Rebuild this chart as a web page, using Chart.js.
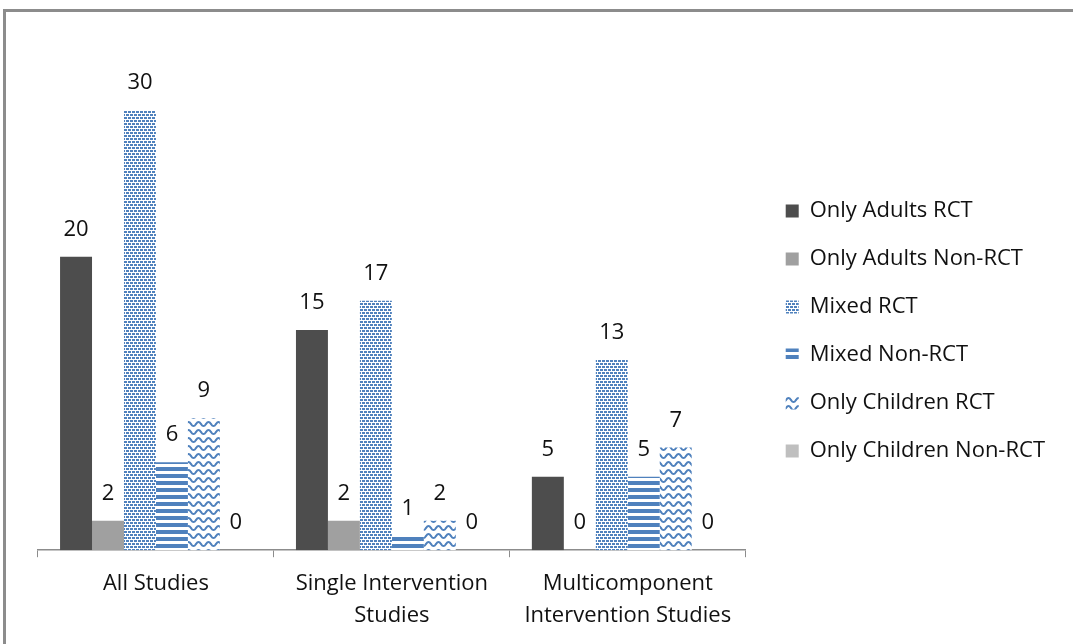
<!DOCTYPE html>
<html>
<head>
<meta charset="utf-8">
<script src="https://cdn.jsdelivr.net/npm/chart.js@4"></script>
<style>
  html, body { margin: 0; padding: 0; background: #fff; overflow: hidden; }
  #frame { position: absolute; left: 3px; top: 9px; width: 1200px; height: 800px; border: 3px solid #8c8c8c; }
  #wrap { position: absolute; left: 6px; top: 12px; width: 1067px; height: 632px; }
</style>
</head>
<body>
<div id="frame"></div>
<div id="wrap"><canvas id="studyChart"></canvas></div>
<script>
// Data
const categories = ["All Studies", ["Single Intervention", "Studies"], ["Multicomponent", "Intervention Studies"]];
const seriesNames = ["Only Adults RCT", "Only Adults Non-RCT", "Mixed RCT", "Mixed Non-RCT", "Only Children RCT", "Only Children Non-RCT"];
const onlyAdultsRCT = [20, 15, 5];
const onlyAdultsNonRCT = [2, 2, 0];
const mixedRCT = [30, 17, 13];
const mixedNonRCT = [6, 1, 5];
const onlyChildrenRCT = [9, 2, 7];
const onlyChildrenNonRCT = [0, 0, 0];

const BLUE = "#4f81bd";
const FONT = '"Open Sans", "Noto Sans", sans-serif';

// pattern fills
function makePattern(w, h, draw) {
  const c = document.createElement("canvas");
  c.width = w; c.height = h;
  const g = c.getContext("2d");
  g.fillStyle = "#fff";
  g.fillRect(0, 0, w, h);
  draw(g);
  return document.getElementById("studyChart").getContext("2d").createPattern(c, "repeat");
}

const dotsPattern = makePattern(8, 6, g => {
  g.fillStyle = BLUE;
  g.fillRect(0, 0, 3, 2);
  g.fillRect(4, 0, 3, 2);
  g.fillRect(2, 3, 3, 2);
  g.fillRect(6, 3, 3, 2);
  g.fillRect(-2, 3, 3, 2);
});

const stripePattern = makePattern(4, 7, g => {
  g.fillStyle = BLUE;
  g.fillRect(0, 0, 4, 4);
});

const wavePattern = makePattern(10, 8, g => {
  g.strokeStyle = BLUE;
  g.lineWidth = 2;
  g.beginPath();
  for (let x = -1; x <= 11; x += 0.5) {
    const y = 4 - 2 * Math.sin((x / 10) * Math.PI * 2);
    if (x === -1) g.moveTo(x, y); else g.lineTo(x, y);
  }
  g.stroke();
});

// value labels above each bar
const valueLabels = {
  id: "valueLabels",
  afterDatasetsDraw(chart) {
    const ctx = chart.ctx;
    ctx.save();
    ctx.font = "22px " + FONT;
    ctx.fillStyle = "#111";
    ctx.textAlign = "center";
    ctx.textBaseline = "middle";
    chart.data.datasets.forEach((ds, i) => {
      chart.getDatasetMeta(i).data.forEach((bar, j) => {
        ctx.fillText(ds.data[j], bar.x, bar.y - 27);
      });
    });
    ctx.restore();
  }
};

const ctx = document.getElementById("studyChart");

new Chart(ctx, {
  type: "bar",
  data: {
    labels: categories,
    datasets: [
      { label: seriesNames[0], data: onlyAdultsRCT, backgroundColor: "#4d4d4d" },
      { label: seriesNames[1], data: onlyAdultsNonRCT, backgroundColor: "#a0a0a0" },
      { label: seriesNames[2], data: mixedRCT, backgroundColor: dotsPattern },
      { label: seriesNames[3], data: mixedNonRCT, backgroundColor: stripePattern },
      { label: seriesNames[4], data: onlyChildrenRCT, backgroundColor: wavePattern },
      { label: seriesNames[5], data: onlyChildrenNonRCT, backgroundColor: "#bfbfbf" }
    ]
  },
  options: {
    responsive: true,
    maintainAspectRatio: false,
    animation: false,
    layout: { padding: { left: 32, top: 7, right: 18, bottom: 1 } },
    datasets: { bar: { categoryPercentage: 0.813, barPercentage: 1 } },
    scales: {
      x: {
        grid: { offset: true, drawOnChartArea: false, drawTicks: true, tickLength: 7, color: "#8c8c8c" },
        border: { display: true, color: "#8c8c8c", width: 1.5 },
        ticks: { color: "#111", font: { family: FONT, size: 22, lineHeight: 1.45 }, padding: 11 }
      },
      y: {
        position: "right",
        min: 0,
        max: 36.2,
        grid: { display: false },
        border: { display: false },
        ticks: { display: false },
        afterFit: (scale) => { scale.width = 14; }
      }
    },
    plugins: {
      legend: {
        position: "right",
        maxWidth: 320,
        labels: {
          boxWidth: 13,
          boxHeight: 13,
          padding: 26,
          color: "#111",
          font: { family: FONT, size: 22 }
        }
      },
      tooltip: { enabled: false }
    }
  },
  plugins: [valueLabels]
});
</script>
</body>
</html>
